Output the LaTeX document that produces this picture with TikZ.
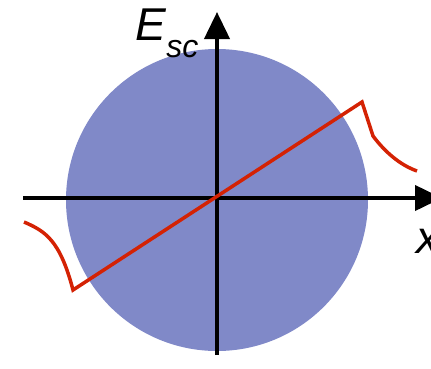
\documentclass[tikz,border=0pt]{standalone}
\usepackage{fontspec}
\setmainfont{Liberation Sans}
\usetikzlibrary{arrows.meta}
\definecolor{disk}{RGB}{128,137,200}
\definecolor{fieldred}{RGB}{212,34,4}
\tikzset{
  axis/.style={line width=4pt,-{Triangle[length=27pt,width=25pt]}},
  field/.style={draw=fieldred,line width=3.5pt,line join=miter},
  lbl/.style={font=\fontsize{46}{46}\selectfont\itshape,inner sep=0pt}
}
\begin{document}
\begin{tikzpicture}[x=1pt,y=-1pt]
\useasboundingbox (0,0) rectangle (431,368);
\clip (0,0) rectangle (431,368);
\fill[disk] (217,200) circle (151);
\coordinate (xl) at (23,198);
\coordinate (xr) at (442,198);
\coordinate (yb) at (217,355);
\coordinate (yt) at (217,12);
\draw[axis] (xl) -- (xr);
\draw[axis] (yb) -- (yt);
\coordinate (p1) at (24,222);
\coordinate (p2) at (73,290);
\coordinate (p3) at (362,102);
\coordinate (p4) at (417,171);
\draw[field] (p1) .. controls (45,231) and (60,240) .. (p2) -- (p3) -- (373,136) .. controls (385,152) and (400,165) .. (p4);
\node[lbl,anchor=base west] (E) at (135,40) {E};
\node[lbl,anchor=base west,font=\fontsize{32}{32}\selectfont\itshape] (sc) at (E.base east) [yshift=-17pt] {sc};
\node[lbl,anchor=base west] (x) at (416,253) {x};
\end{tikzpicture}
\end{document}
